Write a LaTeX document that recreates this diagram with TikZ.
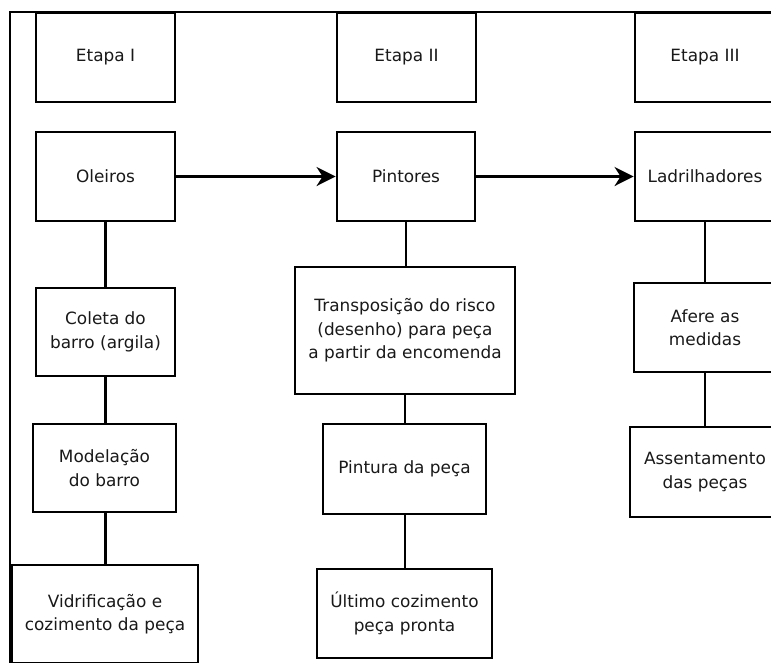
\documentclass[tikz,border=0pt]{standalone}
\usepackage{fontspec}
\setmainfont{DejaVu Sans}
\usetikzlibrary{arrows.meta}
\begin{document}
\begin{tikzpicture}[x=1pt,y=-1pt,
  box/.style={draw=black, line width=2.8pt, fill=white, align=center,
    inner sep=0pt, font=\fontsize{16.9}{23.4}\selectfont, text=black!90},
  link/.style={line width=2.8pt},
  flow/.style={line width=2.8pt, -{Stealth[length=19pt,width=19pt,inset=6pt]}},
  frame/.style={line width=1.8pt}]
\useasboundingbox (0,0) rectangle (771,662);
\draw[frame] (10,700) -- (10,12) -- (800,12);
% column I
\node[box, minimum width=139pt, minimum height=89pt] (e1) at (105.5,57.5) {Etapa I};
\node[box, minimum width=139pt, minimum height=89pt] (ol) at (105.5,176.5) {Oleiros};
\node[box, minimum width=139pt, minimum height=88pt] (co) at (105.5,332) {Coleta do\\barro (argila)};
\node[box, minimum width=143pt, minimum height=88pt] (mo) at (104.5,468) {Modelação\\do barro};
\node[box, minimum width=186pt, minimum height=98pt] (vi) at (105,614) {Vidrificação e\\cozimento da peça};
% column II
\node[box, minimum width=139pt, minimum height=89pt] (e2) at (406.5,57.5) {Etapa II};
\node[box, minimum width=138pt, minimum height=89pt] (pi) at (406,176.5) {Pintores};
\node[box, minimum width=220pt, minimum height=127pt] (tr) at (405,330.5) {Transposição do risco\\(desenho) para peça\\a partir da encomenda};
\node[box, minimum width=163pt, minimum height=90pt] (pt) at (404.5,469) {Pintura da peça};
\node[box, minimum width=175pt, minimum height=89pt] (ul) at (404.5,613.5) {Último cozimento\\peça pronta};
% column III
\node[box, minimum width=140pt, minimum height=89pt] (e3) at (705,57.5) {Etapa III};
\node[box, minimum width=140pt, minimum height=89pt] (la) at (705,176.5) {Ladrilhadores};
\node[box, minimum width=142pt, minimum height=89pt] (af) at (705,327.5) {Afere as\\medidas};
\node[box, minimum width=150pt, minimum height=90pt] (as) at (705,472) {Assentamento\\das peças};
% connectors
\draw[link] (ol.south) -- (co.north);
\draw[link] (co.south) -- (co.south |- mo.north);
\draw[link] (co.south |- mo.south) -- (co.south |- vi.north);
\draw[link] (pi.south) -- (pi.south |- tr.north);
\draw[link] (tr.south) -- (tr.south |- pt.north);
\draw[link] (tr.south |- pt.south) -- (tr.south |- ul.north);
\draw[link] (la.south) -- (af.north);
\draw[link] (af.south) -- (af.south |- as.north);
\draw[flow] (ol.east) -- (pi.west);
\draw[flow] (pi.east) -- (la.west);
\end{tikzpicture}
\end{document}
